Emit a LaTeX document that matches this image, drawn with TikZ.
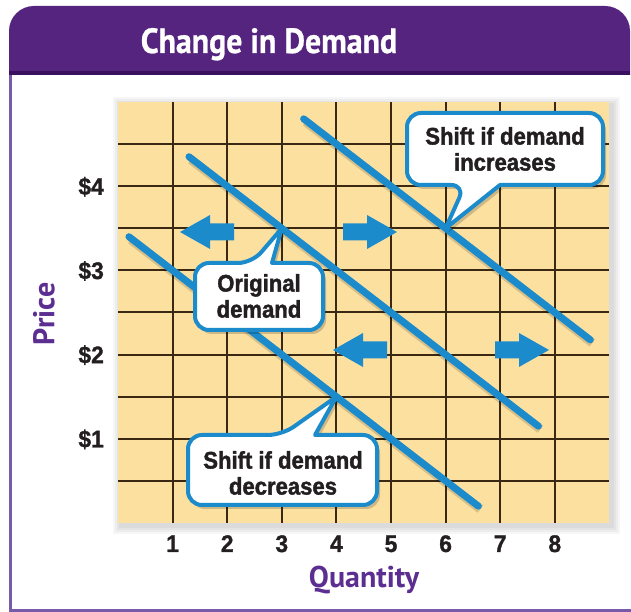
\documentclass[tikz,border=0pt]{standalone}
\usepackage{fontspec}
\setmainfont{Liberation Sans}
\newfontfamily\bubblefont[FakeStretch=0.92,FakeBold=1.6]{Liberation Sans}
\newfontfamily\tickfont[FakeStretch=0.95,FakeBold=1.2]{Liberation Sans}
\newfontfamily\headfont{PT Sans}
\newfontfamily\titlefont[FakeStretch=0.91,FakeBold=0.8]{PT Sans}
\usetikzlibrary{calc}
\definecolor{hdrpurple}{RGB}{84,36,126}
\definecolor{hdrdark}{RGB}{58,16,96}
\definecolor{labpurple}{RGB}{92,46,145}
\definecolor{framepurple}{RGB}{120,90,170}
\definecolor{gridbg}{RGB}{252,224,160}
\definecolor{gridln}{RGB}{58,40,18}
\definecolor{curveblue}{RGB}{28,139,204}
\definecolor{textdark}{RGB}{35,31,32}
\tikzset{
  demandline/.style={curveblue, line width=7pt, line cap=round,
    preaction={draw=black, opacity=0.15, line width=9pt, transform canvas={shift={(2pt,-3pt)}}}},
  gridline/.style={gridln, line width=2pt},
  bubble/.style={fill=white, draw=curveblue, line width=4pt, line join=round,
    preaction={fill=black, opacity=0.18, transform canvas={shift={(3pt,-4pt)}}}},
  bubbletext/.style={font=\bubblefont\bfseries\fontsize{24}{26}\selectfont, text=textdark, align=center, inner sep=0pt},
  ticklabel/.style={font=\tickfont\bfseries\fontsize{24}{26}\selectfont, text=textdark, inner sep=0pt},
  axistitle/.style={font=\headfont\bfseries\fontsize{30}{32}\selectfont, text=labpurple, inner sep=0pt},
  blockarrow/.pic={\fill[curveblue] (0,-8.5) -- (24,-8.5) -- (24,-17) -- (54,0) -- (24,17) -- (24,8.5) -- (0,8.5) -- cycle;}
}
\begin{document}
\begin{tikzpicture}[x=1pt,y=1pt]
\useasboundingbox (0,0) rectangle (631,612);
\fill[white] (0,0) rectangle (631,612);
% header and frame
\fill[hdrpurple, rounded corners=25pt] (9,480) rectangle (630,606);
\fill[white] (9,0) rectangle (631,537);
\fill[hdrdark] (9,537) rectangle (630,541);
\draw[framepurple, line width=3pt] (10.5,537) -- (10.5,1.5) -- (631,1.5);
\node[font=\titlefont\bfseries\fontsize{35}{37}\selectfont, text=white, anchor=base, inner sep=0pt] (title) at (269,559) {Change in Demand};
% grid
\begin{scope}[shift={(118pt,89pt)}, x=54.6pt, y=84.2pt]
  \foreach \e in {2,4,6,8}{
    \fill[black, opacity=0.035] ([xshift=-\e pt+3pt, yshift=-\e pt-3pt]0,0) rectangle ([xshift=\e pt+3pt, yshift=\e pt-3pt]9,5);
  }
  \fill[gridbg] (0,0) rectangle (9,5);
  \foreach \q in {1,...,8} \draw[gridline] (\q,0) -- (\q,5);
  \foreach \p in {0.5,1,...,4.5} \draw[gridline] (0,\p) -- (9,\p);
  % demand curves
  \coordinate (o1) at (1.3,4.35);  \coordinate (o2) at (7.7,1.15);
  \coordinate (i1) at (3.4,4.8);   \coordinate (i2) at (8.65,2.175);
  \coordinate (d1) at (0.2,3.4);   \coordinate (d2) at (6.6,0.2);
  \draw[demandline] (o1) -- (o2);
  \draw[demandline] (i1) -- (i2);
  \draw[demandline] (d1) -- (d2);
  \coordinate (tipO) at (3,3.5);
  \coordinate (tipI) at (6,3.5);
  \coordinate (tipD) at (4,1.5);
  % tick labels
  \foreach \p in {1,2,3,4}
    \node[ticklabel, anchor=base east, xshift=-14pt, yshift=-8.6pt] (py\p) at (0,\p) {\$\p};
  \foreach \q in {1,...,8}
    \node[ticklabel, anchor=base, yshift=-29pt] (qx\q) at (\q,0) {\q};
\end{scope}
% shift arrows
\pic[xscale=-1] at (234,380) {blockarrow};
\pic at (343,380) {blockarrow};
\pic[xscale=-1] at (387,262) {blockarrow};
\pic at (495,262) {blockarrow};
% bubbles
\filldraw[bubble] (272,349) [rounded corners=14pt] -- (323,349) -- (323,282) -- (195,282) -- (195,349) -- (252,349) [sharp corners] -- (tipO) -- cycle;
\node[bubbletext] (orig) at (259,316) {Original\\demand};
\filldraw[bubble] (500,427) [rounded corners=14pt] -- (603,427) -- (603,499) -- (407,499) -- (407,427) -- (465,427) [sharp corners] -- (tipI) -- cycle;
\node[bubbletext] (incr) at (505,463) {Shift if demand\\increases};
\filldraw[bubble] (315,177) [rounded corners=14pt] -- (377,177) -- (377,107) -- (188,107) -- (188,177) -- (282,177) [sharp corners] -- (tipD) -- cycle;
\node[bubbletext] (decr) at (283,139) {Shift if demand\\decreases};
% axis titles
\node[axistitle, rotate=90] (price) at (44,298) {Price};
\node[axistitle] (qty) at (364,32) {Quantity};
\end{tikzpicture}
\end{document}
